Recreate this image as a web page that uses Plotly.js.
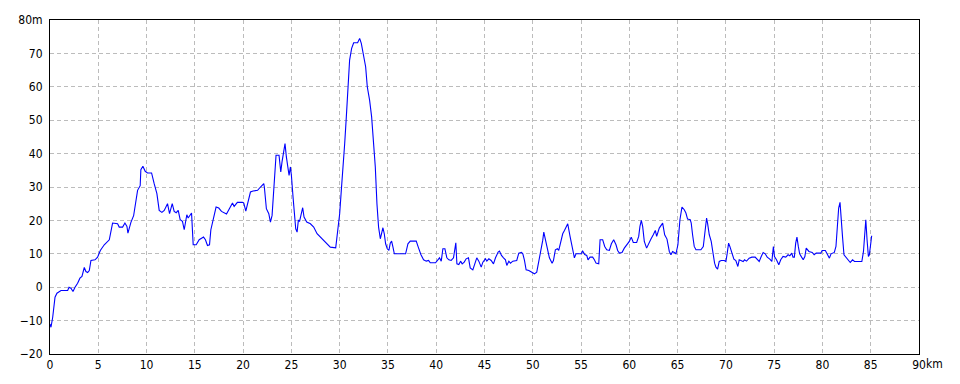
<!DOCTYPE html>
<html>
<head>
<meta charset="utf-8">
<script src="https://cdn.plot.ly/plotly-3.0.1.min.js"></script>
<style>
  html, body { margin: 0; padding: 0; background: #ffffff; }
  #chart { width: 960px; height: 384px; }
</style>
</head>
<body>
<div id="chart"></div>
<script>
// Distance along the route (km)
const distanceKm = [
  0, 0.1, 0.28, 0.38, 0.52, 0.72, 0.97, 1.14, 1.83, 1.97, 2.17, 2.38, 2.59, 2.86, 3.1, 3.31, 3.55, 3.72, 3.9, 4.07,
  4.24, 4.66, 4.93, 5.21, 5.62, 6.14, 6.48, 7.0, 7.17, 7.52, 7.76, 7.97, 8.07, 8.24, 8.38, 8.66, 8.79, 9.07, 9.34, 9.41,
  9.62, 9.86, 10.1, 10.52, 10.79, 11.07, 11.31, 11.59, 11.83, 12.17, 12.38, 12.66, 12.86, 13.07, 13.28, 13.48, 13.72, 13.9, 14.17, 14.31,
  14.66, 14.83, 15.14, 15.45, 15.9, 16.1, 16.31, 16.52, 16.66, 17.0, 17.2, 17.48, 17.76, 18.28, 18.9, 19.07, 19.41, 19.93, 20.07, 20.28,
  20.6, 20.76, 21.03, 21.5, 21.8, 22.14, 22.2, 22.41, 22.66, 22.83, 23.0, 23.24, 23.41, 23.72, 23.9, 24.03, 24.2, 24.34, 24.48, 24.62,
  24.76, 24.9, 25.0, 25.17, 25.31, 25.45, 25.59, 25.72, 25.85, 25.97, 26.17, 26.31, 26.59, 26.97, 27.31, 27.66, 28.0, 28.34, 28.69, 29.03,
  29.59, 29.79, 30.0, 30.17, 30.34, 30.52, 30.69, 30.86, 31.03, 31.24, 31.45, 31.86, 32.07, 32.24, 32.48, 32.69, 32.86, 33.1, 33.31, 33.52,
  33.69, 33.86, 34.03, 34.21, 34.34, 34.48, 34.62, 34.76, 34.93, 35.1, 35.24, 35.38, 35.52, 35.66, 36.83, 37.07, 37.31, 37.93, 38.14, 38.41,
  38.69, 38.97, 39.21, 39.38, 39.93, 40.0, 40.17, 40.34, 40.52, 40.69, 40.9, 41.1, 41.31, 41.55, 41.79, 41.93, 42.03, 42.14, 42.34, 42.52,
  42.69, 42.9, 43.1, 43.34, 43.52, 43.79, 43.97, 44.2, 44.41, 44.66, 44.83, 45.1, 45.24, 45.45, 45.69, 45.93, 46.14, 46.41, 46.55, 46.76,
  46.97, 47.17, 47.31, 47.52, 47.69, 47.93, 48.34, 48.55, 48.83, 48.97, 49.14, 49.31, 49.59, 49.93, 50.17, 50.41, 50.62, 50.86, 51.03, 51.14,
  51.31, 51.55, 51.72, 52.0, 52.14, 52.34, 52.55, 52.69, 52.93, 53.1, 53.28, 53.62, 53.86, 54.14, 54.31, 54.48, 55.0, 55.17, 55.38, 55.59,
  55.72, 55.93, 56.2, 56.38, 56.55, 56.83, 56.97, 57.24, 57.45, 57.66, 57.93, 58.14, 58.38, 58.62, 58.79, 58.97, 59.24, 59.48, 59.72, 60.0,
  60.2, 60.41, 60.76, 60.97, 61.1, 61.24, 61.38, 61.55, 61.79, 62.0, 62.24, 62.48, 62.69, 62.83, 63.1, 63.45, 63.66, 63.9, 64.14, 64.31,
  64.48, 64.65, 64.83, 65.03, 65.24, 65.45, 65.69, 65.86, 66.03, 66.31, 66.41, 66.55, 66.72, 66.9, 67.41, 67.66, 67.79, 68.0, 68.1, 68.28,
  68.48, 68.62, 68.83, 68.97, 69.14, 69.31, 69.52, 69.83, 70.0, 70.14, 70.28, 70.41, 70.62, 70.83, 71.03, 71.24, 71.38, 71.59, 71.79, 71.93,
  72.14, 72.41, 72.69, 73.03, 73.28, 73.45, 73.66, 73.86, 74.07, 74.28, 74.55, 74.76, 74.92, 75.03, 75.24, 75.48, 75.68, 75.92, 76.2, 76.44,
  76.62, 76.82, 76.95, 77.09, 77.23, 77.36, 77.5, 77.64, 77.84, 78.01, 78.18, 78.32, 78.6, 78.94, 79.14, 79.35, 79.83, 79.97, 80.3, 80.55,
  80.72, 80.89, 81.23, 81.4, 81.54, 81.68, 81.82, 81.95, 82.09, 82.23, 82.43, 82.64, 82.88, 83.12, 83.32, 83.73, 84.08, 84.25, 84.38, 84.49,
  84.62, 84.76, 84.86, 84.97, 85.1
];

// Elevation (m)
const elevationM = [
  -11, -12, -9, -7, -3, -1.8, -1.3, -1, -1, 0, -0.3, -1.3, 0, 1.2, 2.7, 3.2, 5.9, 4.7, 4.4, 5,
  8, 8.2, 9, 11, 12.7, 14.2, 19.2, 19, 18, 18, 19.2, 18.2, 16.2, 18, 19.4, 21.4, 24, 29, 30.4, 35.2,
  36.2, 34.7, 34.2, 34.2, 31, 28, 23, 22.4, 23, 25, 22, 25, 22.7, 22.3, 23, 20.2, 19.7, 17.2, 21.7, 20.7,
  22.2, 12.7, 12.7, 14.2, 15, 14.2, 12.5, 12.7, 17.2, 22.2, 24, 23.7, 22.7, 21.9, 25.2, 24.2, 25.4, 25.4, 25.2, 22.8,
  27.2, 28.5, 28.8, 29, 30, 31, 30, 23.5, 22, 19.5, 21.5, 31, 39.5, 39.5, 34.5, 37.5, 40, 43, 39, 36.5,
  33.5, 36, 33.5, 27, 21, 17.5, 16.5, 20, 19.8, 21, 23.8, 21, 19.5, 19, 18, 16, 15, 14, 13.2, 12,
  11.8, 17, 22, 29, 35, 43, 51, 61, 68, 71.5, 73.2, 73.2, 74.5, 73, 69, 66, 60, 56, 51, 44,
  36, 25, 18, 14.5, 16.2, 17.8, 16, 13, 11.5, 11, 13.2, 13.8, 12, 10, 10, 13, 13.8, 13.8, 12, 9.8,
  8.2, 7.8, 8, 7.3, 7.3, 7.5, 8.2, 8.8, 7.8, 11.5, 11.5, 8.8, 8.2, 8, 8.8, 11, 13.3, 7, 6.8, 7.8,
  7, 7.5, 8.5, 8.8, 5.8, 5.2, 7, 8.8, 7.8, 6, 7.5, 8.5, 7.8, 8.5, 8, 7, 8.8, 10.5, 10.8, 9.5,
  8.8, 8.2, 6.5, 7.8, 7.2, 7.8, 8, 10.2, 10.4, 10, 8, 5.2, 5, 4.5, 4, 4.5, 7.5, 11, 14, 16.5,
  14, 10.5, 8.8, 7.2, 8, 11.2, 11.5, 11, 13.5, 16, 17, 19, 15.2, 10.5, 8.8, 10, 10, 10.8, 9.8, 9.5,
  8.2, 9, 9, 8.2, 7.2, 7, 14.2, 14.2, 12.2, 11.2, 11, 13, 14.2, 12.7, 11, 10.2, 10.4, 11.7, 12.7, 13.7,
  15, 13.4, 13.4, 15.2, 18.2, 20, 18.2, 13.7, 11.7, 13.2, 14.4, 15.7, 17, 15.2, 17.7, 19.2, 15.7, 14.4, 10.7, 9.7,
  10.7, 10.4, 10, 12.7, 20.2, 24, 23.2, 22.2, 20.4, 20.2, 19.2, 15.7, 12.2, 11.2, 11.2, 12.2, 16.2, 20.7, 19.2, 15.7,
  13.7, 10.7, 7.2, 6, 5.4, 7.7, 8, 8, 7.7, 10.2, 13.2, 12.2, 10, 8.4, 8, 6.2, 8.2, 8, 7.7, 8.2,
  7.8, 8.7, 9, 9, 8.2, 7.7, 9.2, 10.4, 10, 9, 8.4, 7.7, 12.2, 9.2, 8.2, 6.7, 8.2, 9.2, 9, 9.7,
  9.4, 10.2, 9, 9, 13.2, 15, 12.2, 10, 9, 8.2, 9.2, 11.7, 10.7, 10.4, 9.7, 10.2, 10.2, 11, 11, 9.7,
  8.7, 10, 10.4, 12.2, 17.4, 23.7, 25.4, 19.2, 14.7, 9.7, 9, 8.2, 7.4, 8.2, 7.7, 7.7, 7.7, 10.7, 18.2, 20.2,
  14.2, 9.2, 9.7, 13.2, 15.4
];

// Tick labels
const xTickVals = [0, 5, 10, 15, 20, 25, 30, 35, 40, 45, 50, 55, 60, 65, 70, 75, 80, 85, 90];
const xTickText = ['0', '5', '10', '15', '20', '25', '30', '35', '40', '45', '50', '55', '60', '65', '70', '75', '80', '85', '90'];
const yTickVals = [-20, -10, 0, 10, 20, 30, 40, 50, 60, 70, 80];
const yTickText = ['\u221220', '\u221210', '0', '10', '20', '30', '40', '50', '60', '70', '80m'];

const FONT = '"Liberation Sans Narrow", "DejaVu Sans Condensed", "Arial Narrow", sans-serif';

const trace = {
  x: distanceKm,
  y: elevationM,
  type: 'scatter',
  mode: 'lines',
  line: { color: '#0000ff', width: 1.1 },
  hoverinfo: 'skip'
};

const gridStyle = { showgrid: true, gridcolor: '#bcbcbc', gridwidth: 1, griddash: '4px,3px' };

const layout = {
  width: 960,
  height: 384,
  margin: { l: 50, r: 41, t: 20, b: 30, pad: 0 },
  paper_bgcolor: '#ffffff',
  plot_bgcolor: '#ffffff',
  showlegend: false,
  font: { family: FONT, size: 12, color: '#000000' },
  xaxis: Object.assign({
    range: [0, 90],
    tickmode: 'array',
    tickvals: xTickVals,
    ticktext: xTickText,
    ticks: '',
    showline: true,
    linecolor: '#000000',
    linewidth: 1,
    mirror: true,
    zeroline: false,
    fixedrange: true,
    tickangle: 0,
    tickfont: { family: FONT, size: 12, color: '#000000' }
  }, gridStyle),
  yaxis: Object.assign({
    range: [-20, 80],
    tickmode: 'array',
    tickvals: yTickVals,
    ticktext: yTickText,
    ticks: '',
    ticklabelstandoff: 4,
    showline: true,
    linecolor: '#000000',
    linewidth: 1,
    mirror: true,
    zeroline: false,
    fixedrange: true,
    tickfont: { family: FONT, size: 12, color: '#000000' }
  }, gridStyle),
  annotations: [{
    text: 'km',
    xref: 'x', yref: 'paper',
    x: 90, y: 0,
    xanchor: 'left', yanchor: 'top',
    xshift: 5, yshift: -1,
    showarrow: false,
    font: { family: FONT, size: 12, color: '#000000' }
  }]
};

Plotly.newPlot('chart', [trace], layout, { staticPlot: true, displayModeBar: false });
</script>
</body>
</html>
